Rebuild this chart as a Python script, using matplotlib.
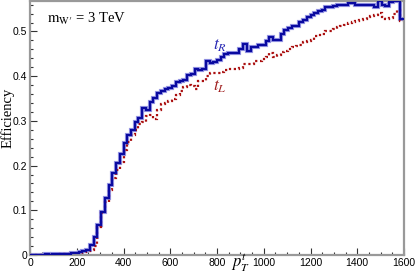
import numpy as np
import matplotlib
matplotlib.use('Agg')
from matplotlib import pyplot as plt
from matplotlib.ticker import MultipleLocator, FuncFormatter

# 100 bins of 16 GeV
edges = np.linspace(0, 1600, 101)

eff_tR = [0.001, 0.001, 0.001, 0.001, 0.002, 0.001, 0.002, 0.002, 0.002, 0.003,
          0.003, 0.004, 0.004, 0.006, 0.008, 0.012, 0.022, 0.041, 0.067, 0.097,
          0.127, 0.156, 0.183, 0.205, 0.227, 0.250, 0.268, 0.279, 0.298, 0.307,
          0.328, 0.325, 0.342, 0.351, 0.363, 0.368, 0.372, 0.374, 0.378, 0.386,
          0.390, 0.392, 0.402, 0.404, 0.417, 0.413, 0.417, 0.433, 0.430, 0.432,
          0.436, 0.443, 0.449, 0.452, 0.452, 0.452, 0.461, 0.473, 0.457, 0.465,
          0.465, 0.469, 0.469, 0.478, 0.487, 0.480, 0.480, 0.495, 0.504, 0.508,
          0.513, 0.513, 0.521, 0.526, 0.533, 0.538, 0.541, 0.545, 0.548, 0.554,
          0.554, 0.558, 0.560, 0.560, 0.560, 0.563, 0.563, 0.560, 0.560, 0.560,
          0.560, 0.560, 0.554, 0.569, 0.560, 0.558, 0.565, 0.569, 0.569, 0.528]

eff_tL = [0.000, 0.001, 0.000, 0.001, 0.001, 0.001, 0.001, 0.001, 0.002, 0.002,
          0.002, 0.003, 0.003, 0.004, 0.006, 0.009, 0.012, 0.020, 0.063, 0.093,
          0.119, 0.145, 0.172, 0.190, 0.208, 0.234, 0.253, 0.268, 0.280, 0.292,
          0.297, 0.310, 0.313, 0.305, 0.325, 0.337, 0.340, 0.345, 0.350, 0.358,
          0.366, 0.375, 0.380, 0.378, 0.372, 0.390, 0.390, 0.400, 0.408, 0.408,
          0.408, 0.410, 0.413, 0.415, 0.417, 0.417, 0.418, 0.428, 0.427, 0.427,
          0.435, 0.435, 0.438, 0.443, 0.452, 0.443, 0.448, 0.454, 0.457, 0.460,
          0.465, 0.467, 0.470, 0.476, 0.478, 0.481, 0.489, 0.492, 0.495, 0.500,
          0.500, 0.506, 0.509, 0.513, 0.515, 0.518, 0.521, 0.523, 0.526, 0.528,
          0.532, 0.534, 0.538, 0.541, 0.532, 0.528, 0.530, 0.539, 0.548, 0.524]

plt.rcParams['mathtext.fontset'] = 'stix'
plt.rcParams['font.family'] = ['Liberation Sans', 'DejaVu Sans']

fig = plt.figure(figsize=(4.15, 2.74), dpi=100)
ax = fig.add_axes([0.0723, 0.0693, 0.9012, 0.9267])

blue = '#0a0aa0'
red = '#aa1010'
ax.stairs(eff_tR, edges, color='#9a9ae6', lw=3.0, baseline=None, zorder=2)
ax.stairs(eff_tR, edges, color=blue, lw=1.6, baseline=None, zorder=3)
ax.stairs(eff_tL, edges, color=red, lw=1.6, ls=(0, (1, 1.2)), baseline=None, zorder=2)

ax.set_xlim(0, 1600)
ax.set_ylim(0, 0.568)

ax.xaxis.set_major_locator(MultipleLocator(200))
ax.xaxis.set_minor_locator(MultipleLocator(50))
ax.yaxis.set_major_locator(MultipleLocator(0.1))
ax.yaxis.set_minor_locator(MultipleLocator(0.02))
ax.yaxis.set_major_formatter(FuncFormatter(lambda v, p: '0' if abs(v) < 1e-9 else '%.1f' % v))
ax.tick_params(which='both', direction='in', colors='#333333', labelcolor='black',
               labelsize=7.5, top=False, right=False, width=0.8)
ax.tick_params(which='major', length=5, pad=2)
ax.tick_params(which='minor', length=2.5)

for s in ax.spines.values():
    s.set_color('#999999')
    s.set_linewidth(1.6)

fig.text(7.5 / 415, 1 - 118 / 274, 'Efficiency', family='Liberation Serif',
         fontsize=10.5, rotation=90, ha='center', va='center')
fig.text(240 / 415, 0.0, r'$p_T^t$', fontsize=12, ha='center', va='bottom')
ax.text(0.045, 0.93, r"$\mathrm{m}_{\mathrm{W}\prime}$ = 3 TeV", transform=ax.transAxes,
        family='Liberation Serif', fontsize=10.5, ha='left', va='center')
ax.text(0.488, 0.822, r'$t_R$', transform=ax.transAxes, color='#2828b4',
        fontsize=12.5, ha='left', va='center')
ax.text(0.488, 0.662, r'$t_L$', transform=ax.transAxes, color='#a02020',
        fontsize=12.5, ha='left', va='center')

plt.savefig('out.png', dpi=100)
